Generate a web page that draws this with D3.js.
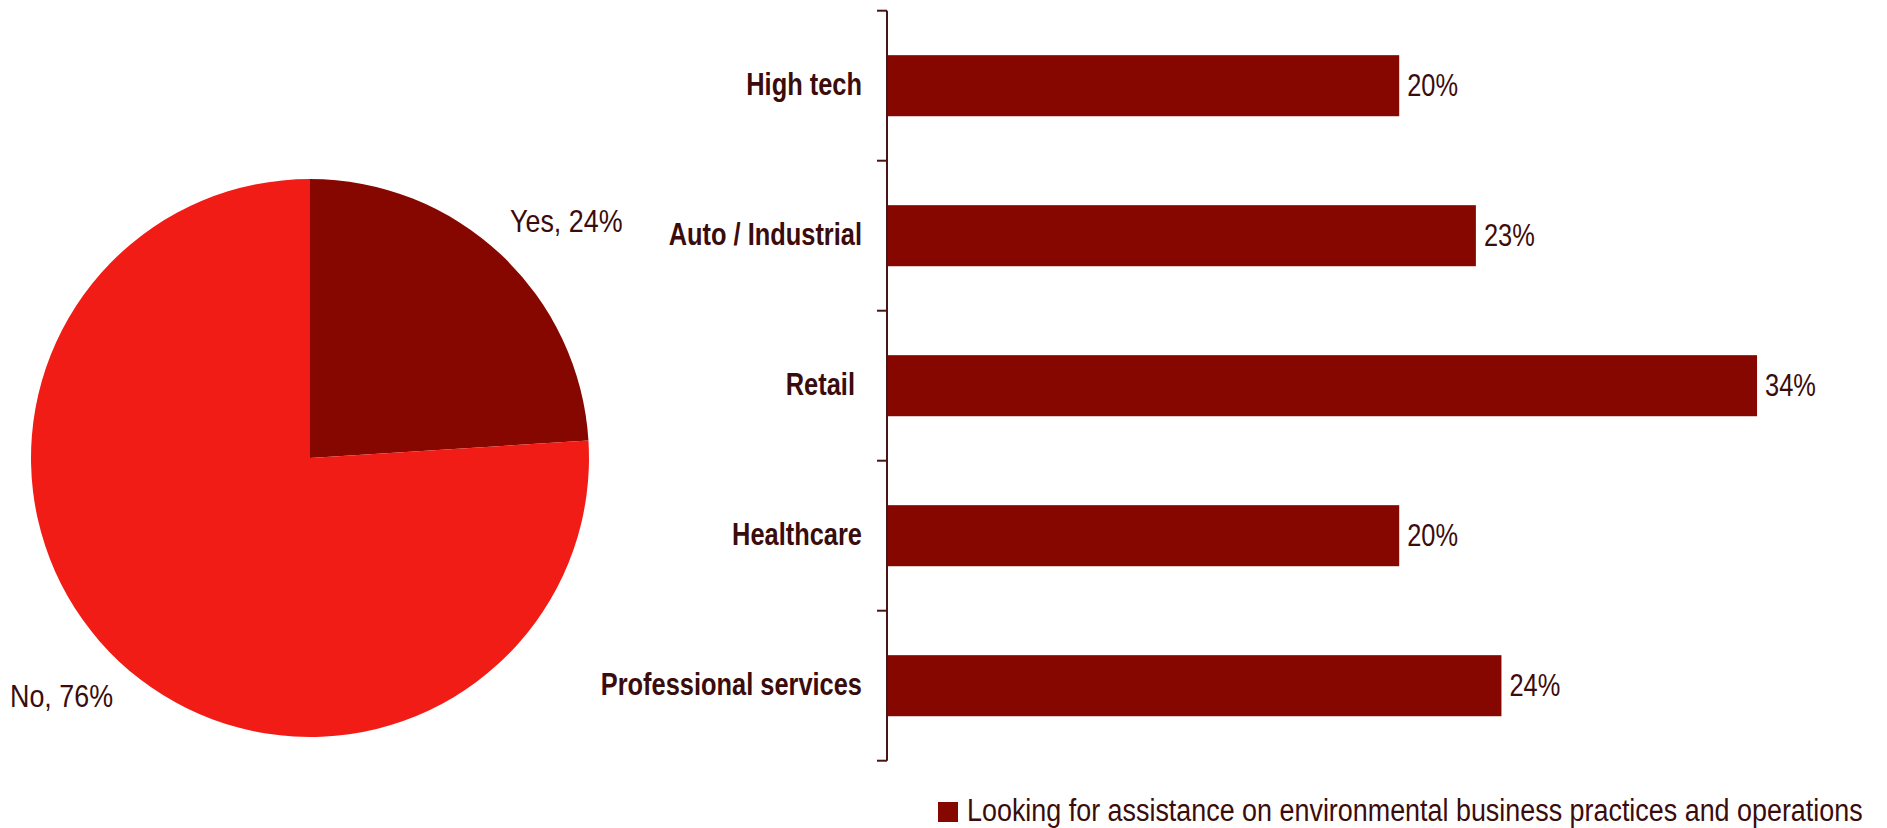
<!DOCTYPE html>
<html>
<head>
<meta charset="utf-8">
<script src="https://cdn.jsdelivr.net/npm/d3@7/dist/d3.min.js"></script>
<style>
  html, body { margin: 0; padding: 0; background: #ffffff; }
  svg { display: block; }
  text { font-family: "Liberation Sans", Arial, sans-serif; fill: #3b0c0c; }
</style>
</head>
<body>
<svg id="chart" width="1887" height="828"></svg>
<script>
// Share of respondents looking for assistance (pie)
const pieLabels = ["Yes", "No"];
const pieValues = [24, 76];

// Share by industry (bars)
const categories = ["High tech", "Auto / Industrial", "Retail ", "Healthcare", "Professional services"];
const barValues = [20, 23, 34, 20, 24];

const legendLabel = "Looking for assistance on environmental business practices and operations";

const darkRed = "#860600";
const brightRed = "#f21c16";

// Narrow typeface look: regular sans squeezed horizontally
const place = (x, y, k = 0.82) => `translate(${x},${y}) scale(${k},1)`;

const svg = d3.select("#chart");

// ---------- Pie ----------
const pieCx = 310, pieCy = 458, pieR = 279;
const pie = d3.pie().sort(null).value(d => d.value);
const arc = d3.arc().innerRadius(0).outerRadius(pieR);
const pieData = pie(pieLabels.map((l, i) => ({ label: l, value: pieValues[i] })));
const pieColor = d3.scaleOrdinal().domain(pieLabels).range([darkRed, brightRed]);

const pg = svg.append("g").attr("transform", `translate(${pieCx},${pieCy})`);
pg.selectAll("path")
  .data(pieData)
  .join("path")
  .attr("d", arc)
  .attr("fill", d => pieColor(d.data.label));

// Labels placed outside the pie, beside each slice
const labelPos = {
  Yes: { x: 510 - pieCx, y: 221 - pieCy },
  No:  { x: 10 - pieCx,  y: 696 - pieCy }
};
pg.selectAll("text.slice")
  .data(pieData)
  .join("text")
  .attr("class", "slice")
  .attr("transform", d => place(labelPos[d.data.label].x, labelPos[d.data.label].y, 0.84))
  .attr("dy", "0.35em")
  .attr("font-size", 32)
  .text(d => `${d.data.label}, ${d.data.value}%`);

// ---------- Bars ----------
const axisX = 887;
const y = d3.scaleBand()
  .domain(categories)
  .range([10.7, 760.7])
  .paddingInner(0.593)
  .paddingOuter(0.2965);

const x = d3.scaleLinear().domain([0, 35]).range([axisX + 1, axisX + 1 + 35 * 25.56]);

const bg = svg.append("g");

bg.selectAll("rect.bar")
  .data(categories)
  .join("rect")
  .attr("class", "bar")
  .attr("x", x(0))
  .attr("y", d => y(d))
  .attr("width", (d, i) => x(barValues[i]) - x(0))
  .attr("height", y.bandwidth())
  .attr("fill", darkRed);

bg.selectAll("text.value")
  .data(categories)
  .join("text")
  .attr("class", "value")
  .attr("transform", (d, i) => place(x(barValues[i]) + 8, y(d) + y.bandwidth() / 2 - 1))
  .attr("dy", "0.35em")
  .attr("font-size", 31)
  .text((d, i) => `${barValues[i]}%`);

// Category axis: line with ticks at the band boundaries
const step = y.step();
const boundaries = categories.map(c => y(c) - step * y.paddingInner() / 2);
boundaries.push(y.range()[1]);

const axisColor = "#4a1414";
bg.append("line")
  .attr("x1", axisX).attr("x2", axisX)
  .attr("y1", y.range()[0]).attr("y2", y.range()[1])
  .attr("stroke", axisColor).attr("stroke-width", 2);

bg.selectAll("line.tick")
  .data(boundaries)
  .join("line")
  .attr("class", "tick")
  .attr("x1", axisX - 10).attr("x2", axisX)
  .attr("y1", d => d).attr("y2", d => d)
  .attr("stroke", axisColor).attr("stroke-width", 2);

bg.selectAll("text.cat")
  .data(categories)
  .join("text")
  .attr("class", "cat")
  .attr("transform", d => place(axisX - 25, y(d) + y.bandwidth() / 2 - 2))
  .attr("dy", "0.35em")
  .attr("text-anchor", "end")
  .attr("font-size", 31)
  .attr("font-weight", "bold")
  .style("white-space", "pre")
  .text(d => d);

// ---------- Legend ----------
const lg = svg.append("g").attr("transform", "translate(938,802)");
lg.append("rect").attr("width", 20).attr("height", 20).attr("fill", darkRed);
lg.append("text")
  .attr("transform", place(29, 8, 0.868))
  .attr("dy", "0.35em")
  .attr("font-size", 31)
  .text(legendLabel);
</script>
</body>
</html>
